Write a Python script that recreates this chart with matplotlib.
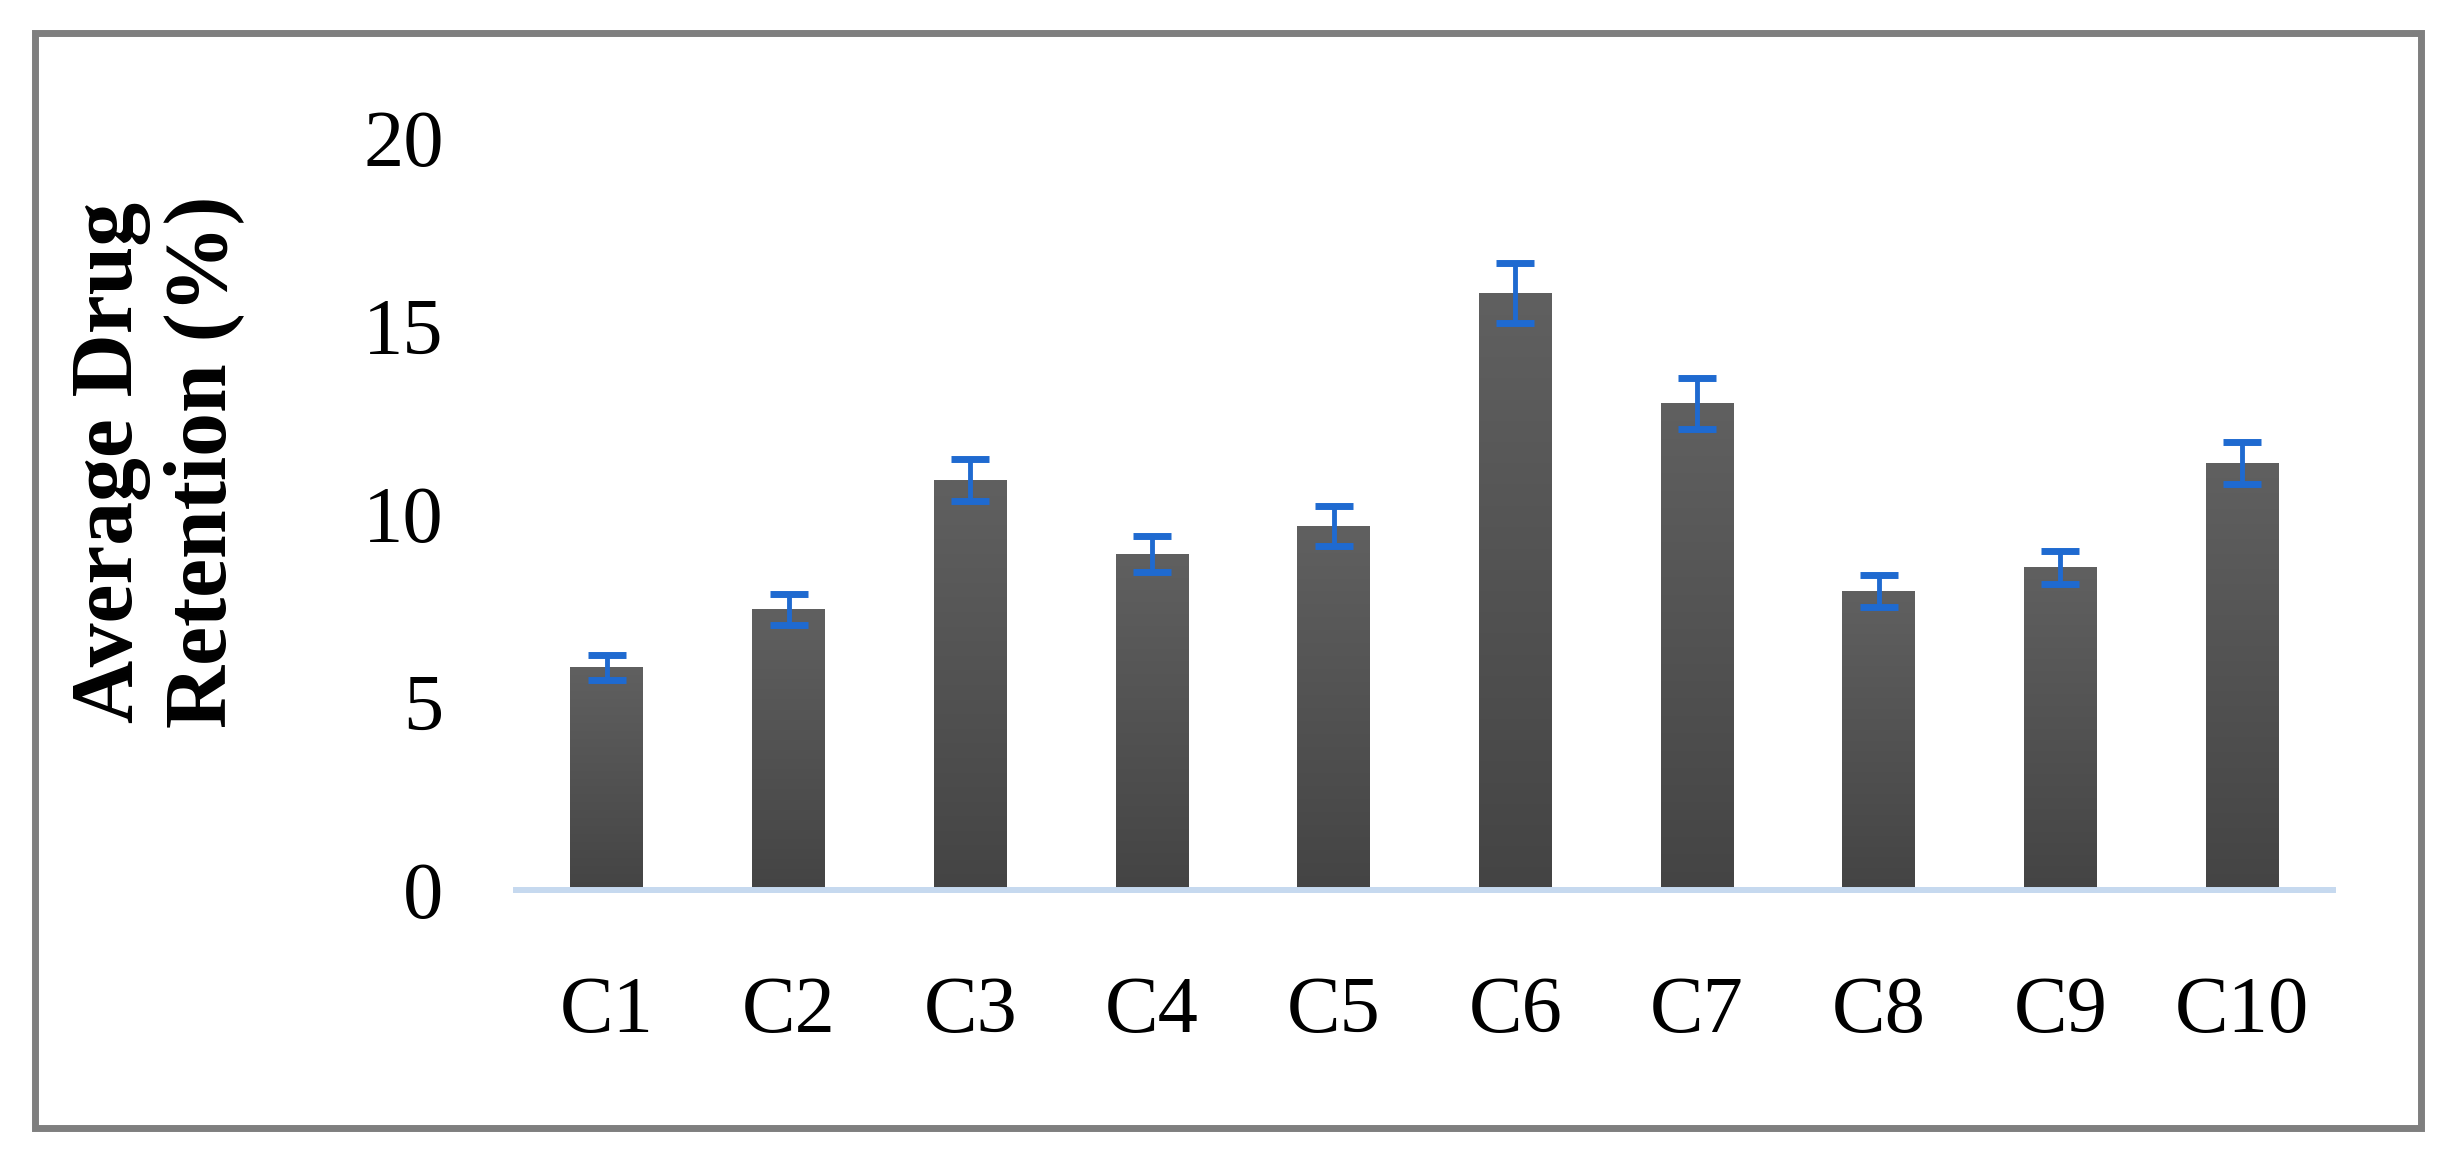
import numpy as np
import matplotlib.pyplot as plt
from matplotlib.colors import LinearSegmentedColormap
from matplotlib.patches import Rectangle

# values
categories = ["C1", "C2", "C3", "C4", "C5", "C6", "C7", "C8", "C9", "C10"]
retention = [5.92, 7.46, 10.9, 8.94, 9.68, 15.88, 12.94, 7.95, 8.58, 11.36]
errors = [0.33, 0.41, 0.55, 0.48, 0.54, 0.80, 0.67, 0.43, 0.43, 0.56]
yticks = [0, 5, 10, 15, 20]

plt.rcParams['font.family'] = ['Liberation Serif', 'DejaVu Serif']

fig = plt.figure(figsize=(24.57, 11.67), dpi=100)
ax = fig.add_axes([0.21, 0.2374, 0.7395, 0.6443])

x = np.arange(len(categories))
bars = ax.bar(x, retention, width=0.4, color='#505050', zorder=2)

# vertical grey gradient inside each bar
grey_cmap = LinearSegmentedColormap.from_list('bargrey', ['#444444', '#606060'])
grad = np.linspace(0, 1, 256).reshape(-1, 1)
for b in bars:
    x0, w, h = b.get_x(), b.get_width(), b.get_height()
    im = ax.imshow(grad, cmap=grey_cmap, origin='lower', aspect='auto',
                   extent=[x0, x0 + w, 0, h], zorder=2.5)
    im.set_clip_path(b)

ax.errorbar(x, retention, yerr=errors, fmt='none', ecolor='#1f6ad0',
            elinewidth=3.5, capsize=14, capthick=5, zorder=4)

ax.set_xlim(-0.5, 9.5)
ax.set_ylim(0, 20)
ax.set_yticks(yticks)
ax.set_xticks(x)
ax.set_xticklabels(categories)
ax.tick_params(axis='both', length=0, labelsize=58)
ax.tick_params(axis='y', pad=52)
ax.tick_params(axis='x', pad=62)

for side in ['top', 'right', 'left']:
    ax.spines[side].set_visible(False)
ax.spines['bottom'].set_color('#c6d9ef')
ax.spines['bottom'].set_linewidth(4.3)

fig.text(0.064, 0.604, "Average Drug\nRetention (%)", rotation=90,
         ha='center', va='center', fontsize=63, fontweight='bold',
         multialignment='center', linespacing=1.2)

# grey frame round the whole chart
fig.patches.append(Rectangle((0.0142, 0.0334), 0.9711, 0.9383,
                             transform=fig.transFigure, fill=False,
                             edgecolor='#7f7f7f', linewidth=5))

fig.savefig('out.png', dpi=100)
